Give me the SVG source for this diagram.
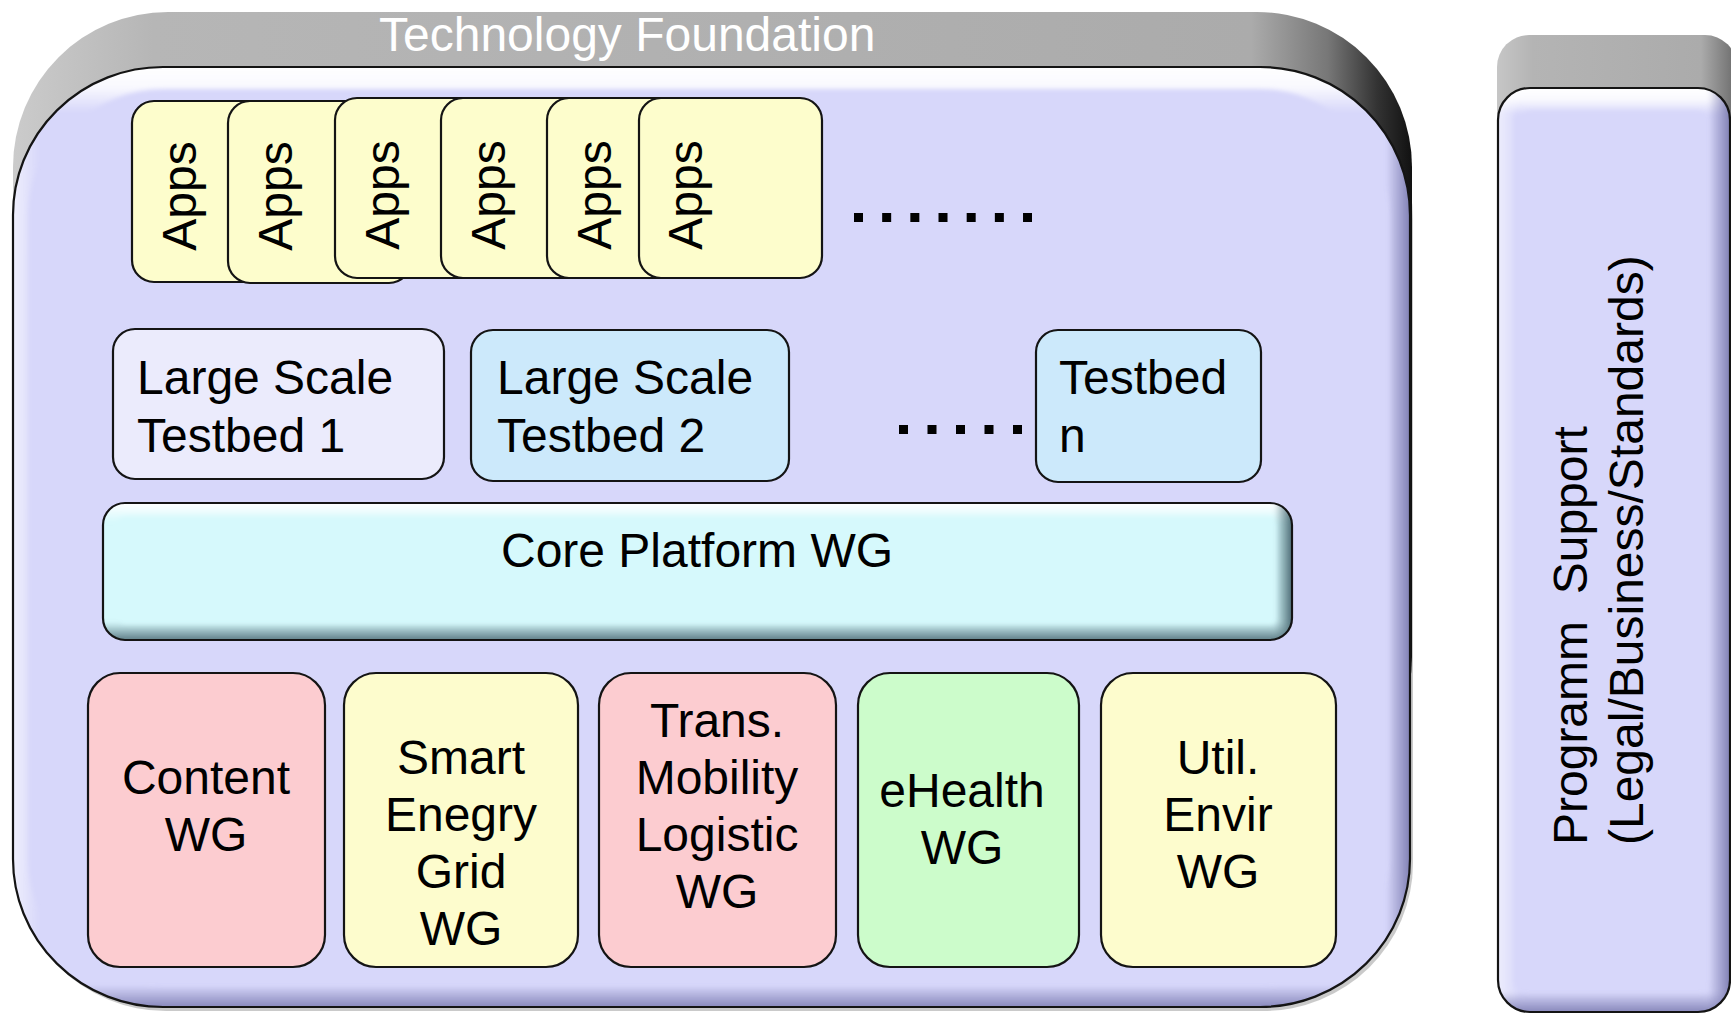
<svg xmlns="http://www.w3.org/2000/svg" width="1731" height="1015" viewBox="0 0 1731 1015">
<style>
.t{font-family:"Liberation Sans",Arial,Helvetica,sans-serif;font-size:48px;fill:#000}
.c{text-anchor:middle}
.hdr{fill:#ffffff}
.ol{fill:none;stroke:#141414;stroke-width:2.2}
.app{fill:#FDFDCC;stroke:#141414;stroke-width:2.2}
.tb1{fill:#EBEBFC;stroke:#141414;stroke-width:2.2}
.tb2{fill:#CCE9FB;stroke:#141414;stroke-width:2.2}
.pink{fill:#FCCCD0;stroke:#141414;stroke-width:2.2}
.yel{fill:#FDFCCD;stroke:#141414;stroke-width:2.2}
.grn{fill:#CCFCCB;stroke:#141414;stroke-width:2.2}
.dots{fill:none;stroke:#000;stroke-width:9}
</style>
<defs>
<linearGradient id="gBack" x1="0" y1="0" x2="1" y2="0">
<stop offset="0" stop-color="#cbcbcb"/>
<stop offset="0.1" stop-color="#b6b6b6"/>
<stop offset="0.885" stop-color="#ababab"/>
<stop offset="0.94" stop-color="#777"/>
<stop offset="0.975" stop-color="#333"/>
<stop offset="1" stop-color="#111"/>
</linearGradient>
<linearGradient id="gBack2" x1="0" y1="0" x2="1" y2="0">
<stop offset="0" stop-color="#c6c6c6"/>
<stop offset="0.15" stop-color="#b4b4b4"/>
<stop offset="0.85" stop-color="#ababab"/>
<stop offset="1" stop-color="#6a6a6a"/>
</linearGradient>
<linearGradient id="hiMain" gradientUnits="userSpaceOnUse" x1="0" y1="67" x2="0" y2="112">
<stop offset="0" stop-color="#fff" stop-opacity="1"/>
<stop offset="0.45" stop-color="#fff" stop-opacity="0.85"/>
<stop offset="1" stop-color="#fff" stop-opacity="0"/>
</linearGradient>
<linearGradient id="hiMainL" gradientUnits="userSpaceOnUse" x1="13" y1="0" x2="40" y2="0">
<stop offset="0" stop-color="#fff" stop-opacity="0.6"/>
<stop offset="1" stop-color="#fff" stop-opacity="0"/>
</linearGradient>
<linearGradient id="shMainR" gradientUnits="userSpaceOnUse" x1="1386" y1="0" x2="1410" y2="0">
<stop offset="0" stop-color="#8080b4" stop-opacity="0"/>
<stop offset="1" stop-color="#8080b4" stop-opacity="1"/>
</linearGradient>
<linearGradient id="shMainB" gradientUnits="userSpaceOnUse" x1="0" y1="985" x2="0" y2="1007">
<stop offset="0" stop-color="#8888bb" stop-opacity="0"/>
<stop offset="1" stop-color="#8888bb" stop-opacity="1"/>
</linearGradient>
<linearGradient id="hiCore" gradientUnits="userSpaceOnUse" x1="0" y1="503" x2="0" y2="522">
<stop offset="0" stop-color="#fff" stop-opacity="1"/>
<stop offset="1" stop-color="#fff" stop-opacity="0"/>
</linearGradient>
<linearGradient id="shCoreR" gradientUnits="userSpaceOnUse" x1="1274" y1="0" x2="1292" y2="0">
<stop offset="0" stop-color="#4f6f78" stop-opacity="0"/>
<stop offset="1" stop-color="#4f6f78" stop-opacity="1"/>
</linearGradient>
<linearGradient id="shCoreB" gradientUnits="userSpaceOnUse" x1="0" y1="622" x2="0" y2="640">
<stop offset="0" stop-color="#5f7f88" stop-opacity="0"/>
<stop offset="1" stop-color="#5f7f88" stop-opacity="1"/>
</linearGradient>
<linearGradient id="hiProg" gradientUnits="userSpaceOnUse" x1="0" y1="88" x2="0" y2="114">
<stop offset="0" stop-color="#fff" stop-opacity="1"/>
<stop offset="0.45" stop-color="#fff" stop-opacity="0.85"/>
<stop offset="1" stop-color="#fff" stop-opacity="0"/>
</linearGradient>
<linearGradient id="hiProgL" gradientUnits="userSpaceOnUse" x1="1498" y1="0" x2="1520" y2="0">
<stop offset="0" stop-color="#fff" stop-opacity="0.55"/>
<stop offset="1" stop-color="#fff" stop-opacity="0"/>
</linearGradient>
<linearGradient id="shProgR" gradientUnits="userSpaceOnUse" x1="1708" y1="0" x2="1730" y2="0">
<stop offset="0" stop-color="#8080b4" stop-opacity="0"/>
<stop offset="1" stop-color="#8080b4" stop-opacity="1"/>
</linearGradient>
<linearGradient id="shProgB" gradientUnits="userSpaceOnUse" x1="0" y1="992" x2="0" y2="1012">
<stop offset="0" stop-color="#8888bb" stop-opacity="0"/>
<stop offset="1" stop-color="#8888bb" stop-opacity="1"/>
</linearGradient>
<clipPath id="cpMain"><rect x="13" y="67" width="1397" height="940" rx="150" ry="148"/></clipPath>
<clipPath id="cpCore"><rect x="103" y="503" width="1189" height="137" rx="22"/></clipPath>
<clipPath id="cpProg"><rect x="1498" y="88" width="232" height="924" rx="32"/></clipPath>
<filter id="soft" x="-5%" y="-5%" width="110%" height="110%"><feGaussianBlur stdDeviation="2"/></filter>
</defs>

<rect width="1731" height="1015" fill="#ffffff"/>

<g id="technology-foundation">
<rect x="16" y="71" width="1397" height="940" rx="150" ry="148" fill="#8a8a8a" opacity="0.45"/>
<rect x="13" y="12" width="1399" height="800" rx="155" fill="url(#gBack)"/>
<text class="t hdr" x="379" y="51">Technology Foundation</text>
<g clip-path="url(#cpMain)">
<rect x="13" y="67" width="1397" height="940" fill="#D7D7FA"/>
<g filter="url(#soft)">
<rect x="13" y="67" width="1397" height="940" rx="150" ry="148" fill="none" stroke="url(#hiMain)" stroke-width="44"/>
<rect x="13" y="67" width="1397" height="940" rx="150" ry="148" fill="none" stroke="url(#hiMainL)" stroke-width="30"/>
<rect x="13" y="67" width="1397" height="940" rx="150" ry="148" fill="none" stroke="url(#shMainR)" stroke-width="40"/>
<rect x="13" y="67" width="1397" height="940" rx="150" ry="148" fill="none" stroke="url(#shMainB)" stroke-width="40"/>
</g>
</g>
<rect class="ol" x="13" y="67" width="1397" height="940" rx="150" ry="148"/>
</g>

<g id="apps-1"><rect class="app" x="132" y="101" width="183" height="181" rx="22"/><text class="t c" x="196" y="196" transform="rotate(-90 196 196)">Apps</text></g>
<g id="apps-2"><rect class="app" x="228" y="101" width="183" height="182" rx="22"/><text class="t c" x="292" y="196" transform="rotate(-90 292 196)">Apps</text></g>
<g id="apps-3"><rect class="app" x="335" y="98" width="183" height="180" rx="22"/><text class="t c" x="399" y="195" transform="rotate(-90 399 195)">Apps</text></g>
<g id="apps-4"><rect class="app" x="441" y="98" width="183" height="180" rx="22"/><text class="t c" x="505" y="195" transform="rotate(-90 505 195)">Apps</text></g>
<g id="apps-5"><rect class="app" x="547" y="98" width="183" height="180" rx="22"/><text class="t c" x="611" y="195" transform="rotate(-90 611 195)">Apps</text></g>
<g id="apps-6"><rect class="app" x="639" y="98" width="183" height="180" rx="22"/><text class="t c" x="702" y="195" transform="rotate(-90 702 195)">Apps</text></g>

<g id="ellipses">
<line class="dots" x1="854" y1="217.5" x2="1032" y2="217.5" stroke-dasharray="9 19.17"/>
<line class="dots" x1="899" y1="429.5" x2="1022" y2="429.5" stroke-dasharray="9 19.5"/>
</g>

<g id="testbed-1"><rect class="tb1" x="113" y="329" width="331" height="150" rx="22"/><text class="t" x="137" y="394">Large Scale</text><text class="t" x="137" y="452">Testbed 1</text></g>
<g id="testbed-2"><rect class="tb2" x="471" y="330" width="318" height="151" rx="22"/><text class="t" x="497" y="394">Large Scale</text><text class="t" x="497" y="452">Testbed 2</text></g>
<g id="testbed-n"><rect class="tb2" x="1036" y="330" width="225" height="152" rx="22"/><text class="t" x="1059" y="394">Testbed</text><text class="t" x="1059" y="452">n</text></g>

<g id="core-platform">
<g clip-path="url(#cpCore)">
<rect x="103" y="503" width="1189" height="137" fill="#D6F9FC"/>
<g filter="url(#soft)">
<rect x="103" y="503" width="1189" height="137" rx="22" fill="none" stroke="url(#hiCore)" stroke-width="26"/>
<rect x="103" y="503" width="1189" height="137" rx="22" fill="none" stroke="url(#shCoreR)" stroke-width="30"/>
<rect x="103" y="503" width="1189" height="137" rx="22" fill="none" stroke="url(#shCoreB)" stroke-width="30"/>
</g>
</g>
<rect class="ol" x="103" y="503" width="1189" height="137" rx="22"/>
<text class="t c" x="697" y="567">Core Platform WG</text>
</g>

<g id="content-wg"><rect class="pink" x="88" y="673" width="237" height="294" rx="32"/><text class="t c" x="206" y="794">Content</text><text class="t c" x="206" y="851">WG</text></g>
<g id="smart-energy-wg"><rect class="yel" x="344" y="673" width="234" height="294" rx="32"/><text class="t c" x="461" y="774">Smart</text><text class="t c" x="461" y="831">Enegry</text><text class="t c" x="461" y="888">Grid</text><text class="t c" x="461" y="945">WG</text></g>
<g id="trans-wg"><rect class="pink" x="599" y="673" width="237" height="294" rx="32"/><text class="t c" x="717" y="737">Trans.</text><text class="t c" x="717" y="794">Mobility</text><text class="t c" x="717" y="851">Logistic</text><text class="t c" x="717" y="908">WG</text></g>
<g id="ehealth-wg"><rect class="grn" x="858" y="673" width="221" height="294" rx="32"/><text class="t c" x="962" y="807">eHealth</text><text class="t c" x="962" y="864">WG</text></g>
<g id="util-wg"><rect class="yel" x="1101" y="673" width="235" height="294" rx="32"/><text class="t c" x="1218" y="774">Util.</text><text class="t c" x="1218" y="831">Envir</text><text class="t c" x="1218" y="888">WG</text></g>

<g id="programm-support">
<rect x="1497" y="35" width="240" height="300" rx="32" fill="url(#gBack2)"/>
<g clip-path="url(#cpProg)">
<rect x="1498" y="88" width="232" height="924" fill="#D7D7FA"/>
<g filter="url(#soft)">
<rect x="1498" y="88" width="232" height="924" rx="32" fill="none" stroke="url(#hiProg)" stroke-width="44"/>
<rect x="1498" y="88" width="232" height="924" rx="32" fill="none" stroke="url(#hiProgL)" stroke-width="30"/>
<rect x="1498" y="88" width="232" height="924" rx="32" fill="none" stroke="url(#shProgR)" stroke-width="40"/>
<rect x="1498" y="88" width="232" height="924" rx="32" fill="none" stroke="url(#shProgB)" stroke-width="36"/>
</g>
</g>
<rect class="ol" x="1498" y="88" width="232" height="924" rx="32"/>
<text class="t" x="1587" y="845" transform="rotate(-90 1587 845)" xml:space="preserve">Programm  Support</text>
<text class="t" x="1643" y="845" transform="rotate(-90 1643 845)">(Legal/Business/Standards)</text>
</g>
</svg>
